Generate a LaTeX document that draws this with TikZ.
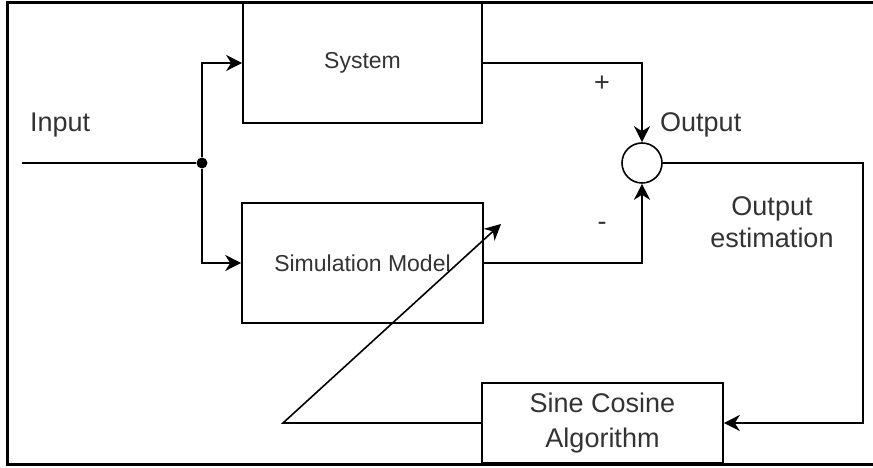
\documentclass[tikz,border=0pt]{standalone}
\usepackage{fontspec}
\setmainfont{Liberation Sans}
\usetikzlibrary{arrows.meta}
\begin{document}
\begin{tikzpicture}[x=1pt, y=1pt,
  blk/.style={draw, line width=1.6pt, inner sep=0pt, font=\fontsize{23}{27}\selectfont, text=black!80},
  lbl/.style={inner sep=0pt, font=\fontsize{27}{32}\selectfont, text=black!80},
  wire/.style={line width=1.6pt},
  arr/.style={wire, -{Stealth[length=16pt, width=16pt, inset=5pt]}}]
  \useasboundingbox (0,0) rectangle (873,468);
  \draw[line width=3pt] (873,465) -- (7,465) -- (7,3) -- (873,3);
  \node[blk, minimum width=239pt, minimum height=120pt] (sys) at (362.5,405) {System};
  \node[blk, minimum width=241pt, minimum height=120pt] (sim) at (362.5,205) {Simulation Model};
  \node[blk, minimum width=241pt, minimum height=80pt, align=center, font=\fontsize{27}{35}\selectfont] (alg) at (602.5,45) {Sine Cosine\\Algorithm};
  \node[draw, circle, line width=1.6pt, minimum size=40pt, inner sep=0pt] (sum) at (642,305) {};
  \node[circle, fill, inner sep=0pt, minimum size=11pt] (split) at (202,305) {};
  \coordinate (in) at (22,305);
  \coordinate (turn) at (863,305);
  \coordinate (tail) at (283,45);
  \coordinate (tip) at (501,244);
  \draw[wire] (in) -- (split);
  \draw[arr] (split) |- (sys.west);
  \draw[arr] (split) |- (sim.west);
  \draw[arr] (sys.east) -| (sum.north);
  \draw[arr] (sim.east) -| (sum.south);
  \draw[arr] (sum.east) -- (turn) |- (alg.east);
  \draw[arr] (alg.west) -- (tail) -- (tip);
  \node[lbl, anchor=base west] (inlbl) at (30,336) {Input};
  \node[lbl, anchor=base west] (outlbl) at (660,336) {Output};
  \node[lbl, anchor=base, align=center] (estlbl) at (772,220) {Output\\estimation};
  \node[lbl] (plus) at (602,384) {+};
  \node[lbl] (minus) at (602,242) {-};
\end{tikzpicture}
\end{document}
